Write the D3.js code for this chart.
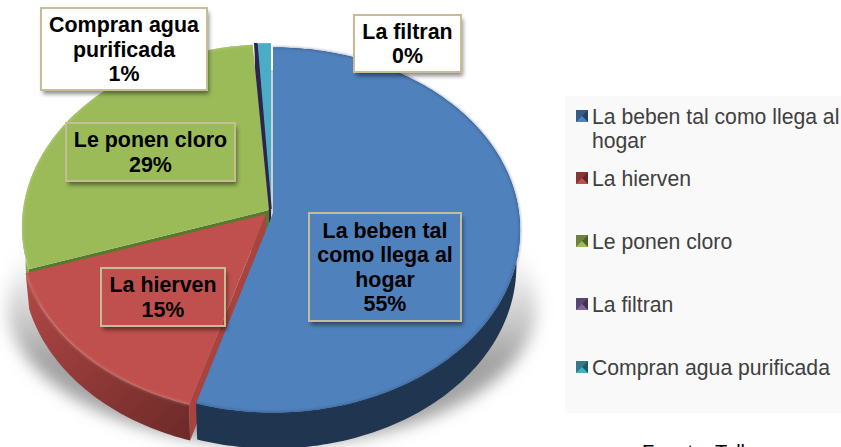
<!DOCTYPE html>
<html>
<head>
<meta charset="utf-8">
<script src="https://cdn.jsdelivr.net/npm/d3@7"></script>
<style>
html, body { margin: 0; padding: 0; background: #fff; overflow: hidden; }
text { font-family: "Liberation Sans", Arial, sans-serif; }
</style>
</head>
<body>
<div id="chart"></div>
<script>
var categories = ["La beben tal como llega al hogar", "La hierven", "Le ponen cloro", "La filtran", "Compran agua purificada"];
var values = [54.6, 15.25, 29, 0.15, 1];
var faceColors = ["#4f81bd", "#c0504d", "#9bbb59", "#2f2450", "#4bacc6"];
var wallColors = ["#1f3550", "#7a2f2d", "#557a2a", "#2f2450", "#2f7f96"];
var legendColors = ["#4f81bd", "#c0504d", "#9bbb59", "#8064a2", "#4bacc6"];
var legendLines = [["La beben tal como llega al", "hogar"], ["La hierven"], ["Le ponen cloro"], ["La filtran"], ["Compran agua purificada"]];
var labelLines = [["La beben tal", "como llega al", "hogar"], ["La hierven"], ["Le ponen cloro"], ["La filtran"], ["Compran agua", "purificada"]];

var width = 841, height = 447;

// how far each slice was pulled out of the pie
var explode = [[6, -1], [-1, 0], [2, -4], [4, -5], [4, -5]];
// label box edges: left, top, right, bottom
var boxes = [[309, 213, 461, 321], [101, 268, 225, 326], [66, 123, 235, 181], [354, 15, 461, 72], [41, 8, 207, 90]];
var legendY = [118, 180, 243, 306, 369];

var svg = d3.select("#chart").append("svg")
    .attr("width", width)
    .attr("height", height)
    .style("display", "block");

var defs = svg.append("defs");

[["blur6", 8], ["blur2", 2], ["blur1", 1]].forEach(function(b) {
    defs.append("filter").attr("id", b[0])
        .attr("x", "-20%").attr("y", "-20%").attr("width", "140%").attr("height", "140%")
        .append("feGaussianBlur").attr("stdDeviation", b[1]);
});

var shadowGrad = defs.append("linearGradient").attr("id", "shadowGrad")
    .attr("x1", 0).attr("y1", 0).attr("x2", 0).attr("y2", 1);
shadowGrad.append("stop").attr("offset", "35%").attr("stop-color", "#aaa").attr("stop-opacity", 0.1);
shadowGrad.append("stop").attr("offset", "70%").attr("stop-color", "#999").attr("stop-opacity", 0.9);

var redWall = defs.append("linearGradient").attr("id", "wall1")
    .attr("gradientUnits", "userSpaceOnUse")
    .attr("x1", 30).attr("y1", 280).attr("x2", 190).attr("y2", 430);
redWall.append("stop").attr("offset", "0%").attr("stop-color", "#b04745");
redWall.append("stop").attr("offset", "100%").attr("stop-color", "#6e2b29");

var greenWall = defs.append("linearGradient").attr("id", "wall2")
    .attr("gradientUnits", "userSpaceOnUse")
    .attr("x1", 0).attr("y1", 200).attr("x2", 0).attr("y2", 280);
greenWall.append("stop").attr("offset", "0%").attr("stop-color", "#a4c763");
greenWall.append("stop").attr("offset", "100%").attr("stop-color", "#7da045");

// the pie is tilted, so the near side is larger than the far side
var pieX = 267, pieY = 214, rX = 246, rY = 181, tilt = 0.093, depth = 36;

function project(angle, r, off, low) {
    var u = Math.sin(angle) * r, v = -Math.cos(angle) * r;
    var w = 1 - tilt * v;
    var shrink = low ? 0.985 : 1;
    return [pieX + off[0] + rX * u / w * shrink, pieY + off[1] + rY * v / w + (low ? depth : 0)];
}

function arcPoints(a, b, off, low) {
    var n = Math.max(2, Math.ceil((b - a) / 0.02));
    return d3.range(n + 1).map(function(i) { return project(a + (b - a) * i / n, 1, off, low); });
}

var line = d3.line();

var pie = d3.pie().sort(null)(values);

// shadow under the pie
var shadowPts = d3.range(0, 361, 3).map(function(d) {
    var a = d * Math.PI / 180;
    return [272 + 265 * Math.sin(a), 305 - 140 * Math.cos(a)];
});
svg.append("path")
    .attr("d", line(shadowPts) + "Z")
    .attr("fill", "url(#shadowGrad)")
    .attr("filter", "url(#blur6)");

// gap behind the pulled out blue slice
svg.append("rect")
    .attr("x", 268).attr("y", 70).attr("width", 8).attr("height", 150)
    .attr("fill", "#cfcfcf");

var order = [4, 3, 2, 1, 0];
var slices = svg.append("g");

order.forEach(function(i) {
    var d = pie[i], off = explode[i];
    var g = slices.append("g");
    var apex = [pieX + off[0], pieY + off[1]];
    var topPts = arcPoints(d.startAngle, d.endAngle, off, false);
    var lowPts = arcPoints(d.startAngle, d.endAngle, off, true);
    var wallFill = (i == 1 || i == 2) ? "url(#wall" + i + ")" : wallColors[i];

    g.append("path")
        .attr("d", line(topPts.concat(lowPts.slice().reverse())) + "Z")
        .attr("fill", wallFill);

    // cut face along the start of the slice
    if (i != 0) {
        var first = topPts[0], firstLow = lowPts[0];
        g.append("path")
            .attr("d", line([apex, first, firstLow, [apex[0], apex[1] + depth]]) + "Z")
            .attr("fill", i == 1 ? "#a8433f" : wallColors[i]);
    }

    g.append("path")
        .attr("d", line([apex].concat(topPts)) + "Z")
        .attr("fill", faceColors[i])
        .attr("stroke", i == 3 ? faceColors[i] : "none")
        .attr("stroke-width", 1.5);

    // soft bevel on the rim
    if (i < 3) {
        g.append("path")
            .attr("d", line(topPts))
            .attr("fill", "none")
            .attr("stroke", i == 0 ? "#2a4666" : "#fff")
            .attr("stroke-opacity", i == 0 ? 0.4 : 0.2)
            .attr("stroke-width", 2)
            .attr("filter", "url(#blur1)");
    }
});

// label boxes
boxes.forEach(function(b, i) {
    defs.append("clipPath").attr("id", "outside" + i)
        .append("path")
        .attr("clip-rule", "evenodd")
        .attr("d", "M0,0H" + width + "V" + height + "H0Z M" + b[0] + "," + b[1] + "H" + b[2] + "V" + b[3] + "H" + b[0] + "Z");
});

var labels = svg.selectAll("g.label")
    .data(pie.map(function(d, i) { return i; }))
    .enter().append("g").attr("class", "label");

labels.append("g")
    .attr("clip-path", function(i) { return "url(#outside" + i + ")"; })
    .append("rect")
    .attr("x", function(i) { return boxes[i][0] + 2; })
    .attr("y", function(i) { return boxes[i][1] + 4; })
    .attr("width", function(i) { return boxes[i][2] - boxes[i][0]; })
    .attr("height", function(i) { return boxes[i][3] - boxes[i][1]; })
    .attr("fill", "#000")
    .attr("fill-opacity", 0.45)
    .attr("filter", "url(#blur2)");

labels.append("rect")
    .attr("x", function(i) { return boxes[i][0]; })
    .attr("y", function(i) { return boxes[i][1]; })
    .attr("width", function(i) { return boxes[i][2] - boxes[i][0]; })
    .attr("height", function(i) { return boxes[i][3] - boxes[i][1]; })
    .attr("fill", function(i) { return i >= 3 ? "#fff" : "none"; })
    .attr("stroke", "#c4bd97")
    .attr("stroke-width", 2);

labels.each(function(i) {
    var b = boxes[i];
    var rows = labelLines[i].concat([Math.round(values[i]) + "%"]);
    var lh = 24.5;
    var startY = (b[1] + b[3]) / 2 - (rows.length - 1) * lh / 2 + 7.5;
    d3.select(this).selectAll("text")
        .data(rows)
        .enter().append("text")
        .attr("x", (b[0] + b[2]) / 2)
        .attr("y", function(d, k) { return startY + k * lh; })
        .attr("text-anchor", "middle")
        .attr("font-size", 21.4)
        .attr("font-weight", "bold")
        .attr("fill", "#000")
        .text(function(d) { return d; });
});

// legend
svg.append("rect")
    .attr("x", 565).attr("y", 96)
    .attr("width", width - 565).attr("height", 317)
    .attr("fill", "#f9f9f9");

var legend = svg.selectAll("g.legend")
    .data(categories)
    .enter().append("g")
    .attr("class", "legend")
    .attr("transform", function(d, i) { return "translate(576," + legendY[i] + ")"; });

legend.append("rect")
    .attr("y", -8).attr("width", 12).attr("height", 12)
    .attr("fill", function(d, i) { return legendColors[i]; });

legend.append("path")
    .attr("d", "M0,-8L12,-8L6,-2Z M0,-8L6,-2L0,4Z")
    .attr("fill", "#000")
    .attr("fill-opacity", 0.3);
legend.append("path")
    .attr("d", "M12,-8L6,-2L12,4Z")
    .attr("fill", "#000")
    .attr("fill-opacity", 0.5);

legend.each(function(d, i) {
    d3.select(this).selectAll("text")
        .data(legendLines[i])
        .enter().append("text")
        .attr("x", 16)
        .attr("y", function(t, k) { return 5.5 + k * 24; })
        .attr("font-size", 21.2)
        .attr("fill", "#404040")
        .text(function(t) { return t; });
});

svg.append("text")
    .attr("x", 642).attr("y", 459)
    .attr("font-size", 20)
    .attr("fill", "#000")
    .text("Fuente: Talleres");
</script>
</body>
</html>
